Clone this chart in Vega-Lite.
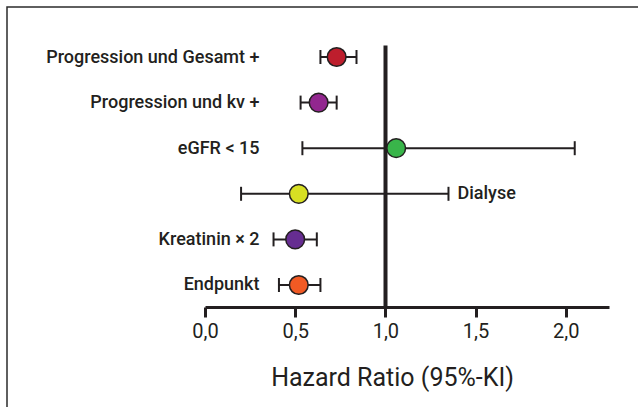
{
  "$schema": "https://vega.github.io/schema/vega-lite/v6.json",
  "width": 640,
  "height": 410,
  "autosize": {"type": "none"},
  "padding": {"left": 7, "top": 7, "right": 0, "bottom": 0},
  "background": "white",
  "config": {
    "view": {"stroke": "#2b2b2b", "strokeWidth": 1.5},
    "font": "Roboto"
  },
  "data": {
    "values": [
      {"label": "Progression und Gesamt +", "hr": 0.73, "lo": 0.64, "hi": 0.84},
      {"label": "Progression und kv +", "hr": 0.63, "lo": 0.53, "hi": 0.73},
      {"label": "eGFR < 15", "hr": 1.06, "lo": 0.54, "hi": 2.05},
      {"label": "Dialyse", "hr": 0.52, "lo": 0.2, "hi": 1.35},
      {"label": "Kreatinin × 2", "hr": 0.5, "lo": 0.38, "hi": 0.62},
      {"label": "Endpunkt", "hr": 0.52, "lo": 0.41, "hi": 0.64}
    ]
  },
  "resolve": {"axis": {"x": "independent"}},
  "encoding": {
    "y": {
      "field": "label",
      "type": "nominal",
      "scale": {
        "type": "point",
        "domain": ["Progression und Gesamt +", "Progression und kv +", "eGFR < 15", "Dialyse", "Kreatinin × 2", "Endpunkt"],
        "range": [38, 300],
        "padding": 0.373,
        "align": 0.353
      },
      "axis": {
        "orient": "left",
        "offset": -252,
        "domain": false,
        "ticks": false,
        "tickSize": 0,
        "labelPadding": 0,
        "title": null,
        "grid": false,
        "labelExpr": "datum.value === 'Dialyse' ? '' : datum.value",
        "labelFontSize": 18,
        "labelFontWeight": 500,
        "labelColor": "#231f20",
        "labelLimit": 400
      }
    }
  },
  "layer": [
    {
      "mark": {"type": "rule", "stroke": "#231f20", "strokeWidth": 2},
      "encoding": {
        "x": {
          "field": "lo",
          "type": "quantitative",
          "scale": {"domain": [0, 2.24], "range": [198, 602], "zero": false, "nice": false},
          "axis": {
            "orient": "bottom",
            "values": [0, 0.5, 1, 1.5, 2],
            "labelExpr": "replace(format(datum.value, '.1f'), '.', ',')",
            "offset": -110,
            "domain": true,
            "domainColor": "#231f20",
            "domainWidth": 3,
            "ticks": true,
            "tickColor": "#231f20",
            "tickWidth": 3,
            "tickSize": 10,
            "labelPadding": 4,
            "labelFontSize": 20,
            "labelColor": "#231f20",
            "labelFlush": false,
            "title": "Hazard Ratio (95%-KI)",
            "titleFontSize": 25,
            "titleFontWeight": "normal",
            "titleColor": "#231f20",
            "titleX": 385,
            "titleY": 78,
            "titleAlign": "center",
            "titleBaseline": "alphabetic",
            "grid": false
          }
        },
        "x2": {"field": "hi"}
      }
    },
    {
      "mark": {"type": "tick", "size": 14, "thickness": 2, "color": "#231f20", "opacity": 1},
      "encoding": {
        "x": {
          "field": "lo",
          "type": "quantitative",
          "axis": {
            "orient": "top",
            "values": [1],
            "offset": 0,
            "domain": false,
            "ticks": false,
            "labels": false,
            "title": null,
            "grid": true,
            "gridColor": "#231f20",
            "gridWidth": 4,
            "gridOpacity": 1
          }
        }
      }
    },
    {
      "mark": {"type": "tick", "size": 14, "thickness": 2, "color": "#231f20", "opacity": 1},
      "encoding": {"x": {"field": "hi", "type": "quantitative", "axis": null}}
    },
    {
      "mark": {"type": "circle", "size": 350, "opacity": 1, "stroke": "#231f20", "strokeWidth": 1.5},
      "encoding": {
        "x": {"field": "hr", "type": "quantitative", "axis": null},
        "color": {
          "field": "label",
          "type": "nominal",
          "scale": {
            "domain": ["Progression und Gesamt +", "Progression und kv +", "eGFR < 15", "Dialyse", "Kreatinin × 2", "Endpunkt"],
            "range": ["#be1e2d", "#92278f", "#39b54a", "#d7df23", "#662d91", "#f15a24"]
          },
          "legend": null
        }
      }
    },
    {
      "transform": [{"filter": "datum.label === 'Dialyse'"}],
      "mark": {"type": "text", "align": "left", "baseline": "middle", "dx": 9, "fontSize": 18, "fontWeight": 500, "color": "#231f20"},
      "encoding": {
        "x": {"field": "hi", "type": "quantitative", "axis": null},
        "text": {"field": "label"}
      }
    }
  ]
}
